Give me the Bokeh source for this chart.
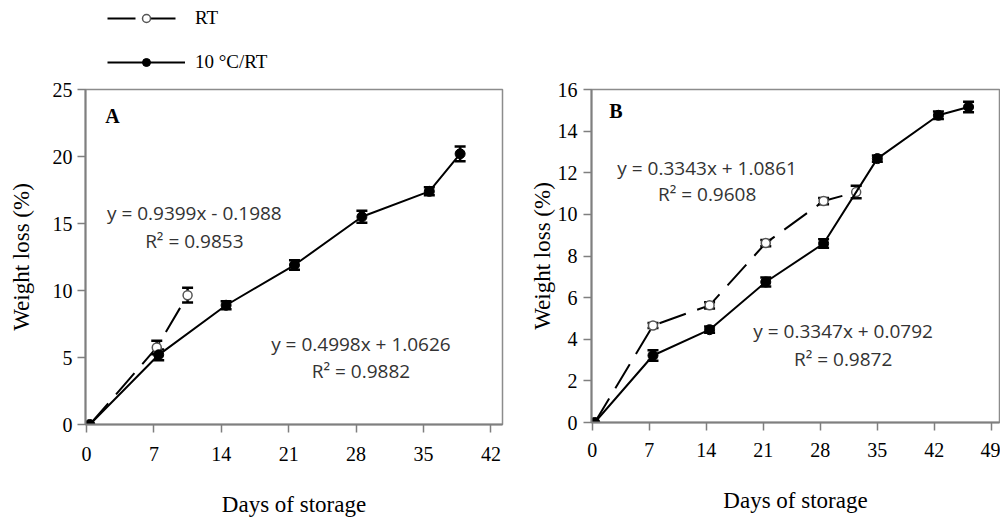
from bokeh.plotting import figure
from bokeh.models import (ColumnDataSource, Whisker, TeeHead, FixedTicker, Label,
                          Legend, LegendItem, Range1d)
from bokeh.layouts import row, column
from bokeh.embed import file_html
from bokeh.resources import INLINE

# ---------------- data ----------------
# Panel A
a_ctrl_days = [0.35, 7.5, 14.5, 21.6, 28.6, 35.6, 38.8]
a_ctrl_loss = [0.0, 5.2, 8.9, 11.9, 15.5, 17.4, 20.2]
a_ctrl_err = [0.0, 0.4, 0.3, 0.35, 0.45, 0.3, 0.55]
a_rt_days = [0.35, 7.3, 10.5]
a_rt_loss = [0.0, 5.75, 9.65]
a_rt_err = [0.0, 0.5, 0.55]

# Panel B
b_ctrl_days = [0.3, 7.45, 14.4, 21.3, 28.4, 35.0, 42.5, 46.2]
b_ctrl_loss = [0.0, 3.22, 4.46, 6.75, 8.6, 12.68, 14.76, 15.16]
b_ctrl_err = [0.0, 0.25, 0.15, 0.22, 0.2, 0.15, 0.18, 0.25]
b_rt_days = [0.3, 7.45, 14.4, 21.3, 28.4, 32.4]
b_rt_loss = [0.0, 4.66, 5.63, 8.62, 10.64, 11.07]
b_rt_err = [0.0, 0.12, 0.15, 0.15, 0.15, 0.3]

a_xticks = [0, 7, 14, 21, 28, 35, 42]
a_yticks = [0, 5, 10, 15, 20, 25]
b_xticks = [0, 7, 14, 21, 28, 35, 42, 49]
b_yticks = [0, 2, 4, 6, 8, 10, 12, 14, 16]

series_names = ["RT", "10 °C/RT"]
y_title = "Weight loss (%)"
x_title = "Days of storage"

SERIF = "Liberation Serif"
SANS = "Open Sans"
AXIS_COL = "#7f7f7f"

RT_LINE = dict(line_color="black", line_width=2, line_dash="28 12")
RT_MARK = dict(size=9, marker="circle", fill_color="white", line_color="#555555",
               line_width=1.5)
CT_LINE = dict(line_color="black", line_width=2)
CT_MARK = dict(size=10, marker="circle", fill_color="black", line_color="black")


def whisker_source(xs, ys, es):
    pts = [(x, y, e) for x, y, e in zip(xs, ys, es) if e > 0]
    return ColumnDataSource(dict(x=[p[0] for p in pts],
                                 lo=[p[1] - p[2] for p in pts],
                                 hi=[p[1] + p[2] for p in pts]))


def add_whisker(p, src):
    w = Whisker(source=src, base="x", lower="lo", upper="hi",
                line_color="black", line_width=2.5,
                upper_head=TeeHead(size=11, line_width=2.5, line_color="black"),
                lower_head=TeeHead(size=11, line_width=2.5, line_color="black"))
    p.add_layout(w)


def make_panel(width, height, xr, yr, xticks, yticks, borders, ctrl, rt,
               ylab_standoff, ytick_standoff, xtick_standoff, xlab_standoff):
    left, right, top, bottom = borders
    p = figure(width=width, height=height, output_backend="svg", toolbar_location=None,
               x_range=Range1d(*xr), y_range=Range1d(*yr),
               min_border_left=left, min_border_right=right,
               min_border_top=top, min_border_bottom=bottom)
    p.grid.visible = False
    p.background_fill_color = "white"
    p.border_fill_color = "white"
    p.outline_line_color = "#8c8c8c"
    p.outline_line_width = 1.5

    p.xaxis.ticker = FixedTicker(ticks=xticks)
    p.yaxis.ticker = FixedTicker(ticks=yticks)
    for ax in (p.xaxis, p.yaxis):
        ax.axis_line_color = AXIS_COL
        ax.axis_line_width = 2
        ax.major_tick_line_color = AXIS_COL
        ax.major_tick_line_width = 1.5
        ax.major_tick_in = 0
        ax.major_tick_out = 8
        ax.minor_tick_line_color = None
        ax.major_label_text_font = SERIF
        ax.major_label_text_font_size = "20px"
        ax.major_label_text_color = "black"
        ax.axis_label_text_font = SERIF
        ax.axis_label_text_font_size = "23px"
        ax.axis_label_text_font_style = "normal"
        ax.axis_label_text_color = "black"
    p.yaxis.axis_label = y_title
    p.xaxis.axis_label = x_title
    p.yaxis.major_label_standoff = ytick_standoff
    p.yaxis.axis_label_standoff = ylab_standoff
    p.xaxis.major_label_standoff = xtick_standoff
    p.xaxis.axis_label_standoff = xlab_standoff

    (cx, cy, ce), (rx, ry, re_) = ctrl, rt
    p.line(rx, ry, **RT_LINE)
    add_whisker(p, whisker_source(rx, ry, re_))
    p.scatter(rx[1:], ry[1:], **RT_MARK)
    p.line(cx, cy, **CT_LINE)
    add_whisker(p, whisker_source(cx, cy, ce))
    p.scatter(cx, cy, **CT_MARK)
    return p


LEG_H = 80
pA = make_panel(526, 520 - LEG_H, (-0.1, 43.2), (0, 25), a_xticks, a_yticks,
                (85, 24, 89 - LEG_H, 96),
                (a_ctrl_days, a_ctrl_loss, a_ctrl_err),
                (a_rt_days, a_rt_loss, a_rt_err),
                ylab_standoff=16, ytick_standoff=5,
                xtick_standoff=14, xlab_standoff=28)
pB = make_panel(474, 520, (-0.1, 50.0), (0, 16), b_xticks, b_yticks,
                (64, 1, 89, 98),
                (b_ctrl_days, b_ctrl_loss, b_ctrl_err),
                (b_rt_days, b_rt_loss, b_rt_err),
                ylab_standoff=0, ytick_standoff=6,
                xtick_standoff=12, xlab_standoff=28)


def add_text(p, x, y, txt, font=SANS, size="19px", color="#333333", style="normal",
             align="center"):
    p.add_layout(Label(x=x, y=y, text=txt, text_font=font, text_font_size=size,
                       text_color=color, text_font_style=style, text_align=align,
                       text_baseline="middle"))


add_text(pA, 2.7, 23.0, "A", font=SERIF, size="20px", color="black", style="bold")
add_text(pA, 11.2, 15.8, "y = 0.9399x - 0.1988")
add_text(pA, 11.2, 13.7, "R² = 0.9853")
add_text(pA, 28.5, 6.0, "y = 0.4998x + 1.0626")
add_text(pA, 28.5, 3.98, "R² = 0.9882")

add_text(pB, 2.9, 14.95, "B", font=SERIF, size="20px", color="black", style="bold")
add_text(pB, 14.1, 12.24, "y = 0.3343x + 1.0861")
add_text(pB, 14.1, 10.96, "R² = 0.9608")
add_text(pB, 30.8, 4.4, "y = 0.3347x + 0.0792")
add_text(pB, 30.8, 3.03, "R² = 0.9872")

# ---- legend strip above panel A (its renderers hold the series, kept out of view) ----
pL = figure(width=526, height=LEG_H, output_backend="svg", toolbar_location=None,
            x_range=Range1d(-3, -2), y_range=Range1d(-3, -2),
            min_border_left=0, min_border_right=0, min_border_top=0,
            min_border_bottom=0, x_axis_location=None, y_axis_location=None)
pL.grid.visible = False
pL.outline_line_color = None
l_rt_line = pL.line(a_rt_days, a_rt_loss, **RT_LINE)
l_rt_mark = pL.scatter(a_rt_days, a_rt_loss, **RT_MARK)
l_ct_line = pL.line(a_ctrl_days, a_ctrl_loss, **CT_LINE)
l_ct_mark = pL.scatter(a_ctrl_days, a_ctrl_loss, **CT_MARK)
legend = Legend(items=[LegendItem(label=series_names[0], renderers=[l_rt_line, l_rt_mark]),
                       LegendItem(label=series_names[1], renderers=[l_ct_line, l_ct_mark])],
                location=(22, 7), orientation="vertical",
                glyph_width=78, glyph_height=20, label_height=20,
                label_standoff=10, spacing=22, padding=0, margin=0,
                border_line_color=None, background_fill_alpha=0,
                label_text_font=SERIF, label_text_font_size="19px",
                label_text_color="black")
pL.add_layout(legend, "center")

layout = row(column(pL, pA), pB)
open("out.html", "w").write(file_html(layout, INLINE))
